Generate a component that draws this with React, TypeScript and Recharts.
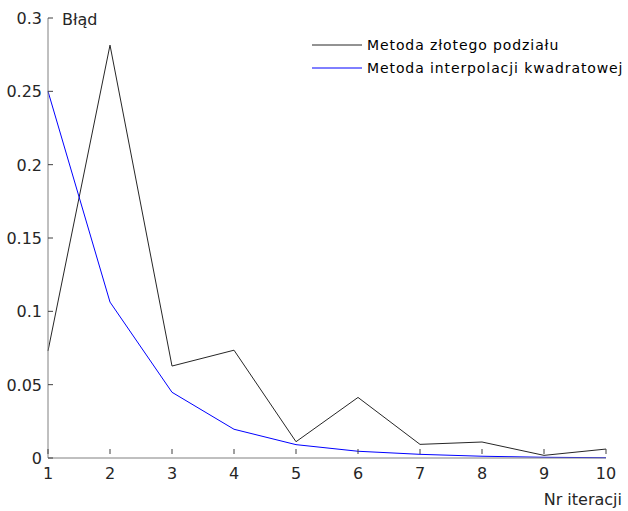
import React from 'react';
import { LineChart, Line, XAxis, YAxis } from 'recharts';

// Iteration numbers and error of each method
const iterations = [1, 2, 3, 4, 5, 6, 7, 8, 9, 10];
const goldenSectionError = [0.073, 0.2815, 0.0627, 0.0735, 0.0111, 0.0413, 0.0093, 0.0109, 0.0018, 0.0061];
const quadraticInterpError = [0.25, 0.1063, 0.0448, 0.0196, 0.0091, 0.0046, 0.0025, 0.0012, 0.0005, 0.0002];

const xTicks = [1, 2, 3, 4, 5, 6, 7, 8, 9, 10];
const yTicks = [0, 0.05, 0.1, 0.15, 0.2, 0.25, 0.3];

const seriesNames = ['Metoda złotego podziału', 'Metoda interpolacji kwadratowej'];
const seriesColors = ['#262626', '#0000ff'];

const data = iterations.map((it, i) => ({
  it,
  golden: goldenSectionError[i],
  quad: quadraticInterpError[i],
}));

const FONT = '"DejaVu Sans", sans-serif';
const TEXT = '#262626';

const YTick = (props: any) => {
  const { x, y, payload } = props;
  return (
    <g>
      <line x1={x + 6} x2={x + 11} y1={y} y2={y} stroke="#404040" strokeWidth={1} />
      <text x={x} y={y} dy={6} textAnchor="end" fontFamily={FONT} fontSize={16} fill={TEXT}>
        {String(payload.value)}
      </text>
    </g>
  );
};

const XTick = (props: any) => {
  const { x, y, payload } = props;
  return (
    <g>
      <line x1={x} x2={x} y1={y - 6} y2={y - 11} stroke="#404040" strokeWidth={1} />
      <text x={x} y={y} dy={19} textAnchor="middle" fontFamily={FONT} fontSize={16} fill={TEXT}>
        {String(payload.value)}
      </text>
    </g>
  );
};

const YLabel = (props: any) => {
  const { viewBox } = props;
  return (
    <text x={viewBox.x + viewBox.width + 14} y={viewBox.y + 7} fontFamily={FONT} fontSize={16} fill={TEXT}>
      Błąd
    </text>
  );
};

const XLabel = (props: any) => {
  const { viewBox } = props;
  return (
    <text
      x={viewBox.x + viewBox.width + 16}
      y={viewBox.y + 47}
      textAnchor="end"
      fontFamily={FONT}
      fontSize={16}
      fill={TEXT}
    >
      Nr iteracji
    </text>
  );
};

const LegendBox = () => (
  <svg width={320} height={50} style={{ display: 'block' }}>
    {seriesNames.map((name, i) => (
      <g key={name}>
        <line x1={0} x2={50} y1={9 + i * 23} y2={9 + i * 23} stroke={seriesColors[i]} strokeWidth={1} />
        <text
          x={55}
          y={9 + i * 23}
          dy={5}
          fontFamily={FONT}
          fontSize={14}
          letterSpacing={0.9}
          fill="#000"
        >
          {name}
        </text>
      </g>
    ))}
  </svg>
);

export default function App() {
  return (
    <div style={{ position: 'absolute', left: 0, top: 0, width: 628, height: 511, background: '#fff' }}>
      <LineChart width={628} height={511} data={data} margin={{ top: 18, right: 22, left: 0, bottom: 0 }}>
        <XAxis
          dataKey="it"
          type="number"
          domain={[1, 10]}
          ticks={xTicks}
          tickLine={false}
          tickSize={0}
          tick={<XTick />}
          height={53}
          stroke="#808080"
          label={<XLabel />}
        />
        <YAxis
          type="number"
          domain={[0, 0.3]}
          ticks={yTicks}
          tickLine={false}
          tickSize={0}
          tickMargin={6}
          tick={<YTick />}
          width={48}
          stroke="#808080"
          label={<YLabel />}
        />
        <Line
          dataKey="golden"
          name={seriesNames[0]}
          stroke={seriesColors[0]}
          strokeWidth={1}
          dot={false}
          isAnimationActive={false}
        />
        <Line
          dataKey="quad"
          name={seriesNames[1]}
          stroke={seriesColors[1]}
          strokeWidth={1}
          dot={false}
          isAnimationActive={false}
        />
      </LineChart>
      <div style={{ position: 'absolute', left: 312, top: 36 }}>
        <LegendBox />
      </div>
    </div>
  );
}
